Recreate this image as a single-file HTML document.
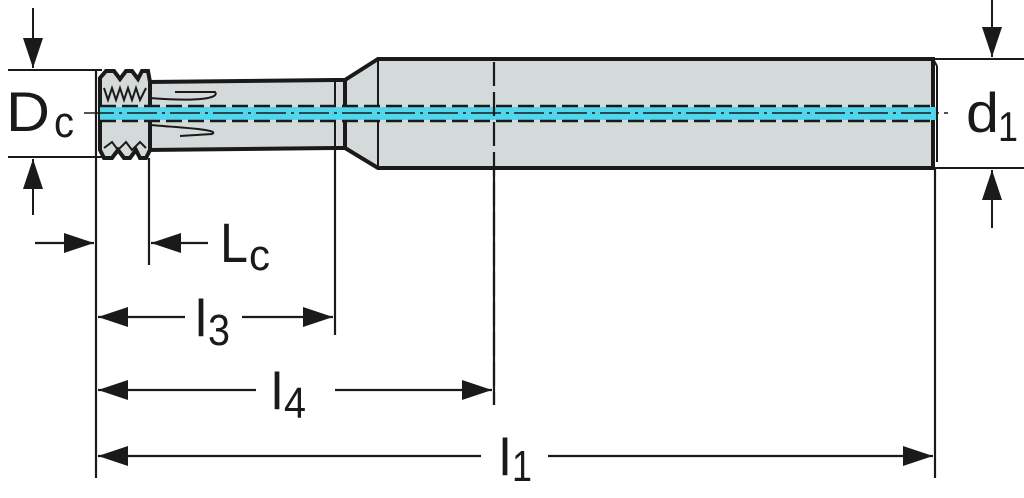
<!DOCTYPE html>
<html><head><style>
html,body{margin:0;padding:0;background:#fff;width:1024px;height:498px;overflow:hidden}
svg text{font-family:"Liberation Sans",sans-serif;fill:#1a1a1a}
</style></head><body>
<svg width="1024" height="498" viewBox="0 0 1024 498" xmlns="http://www.w3.org/2000/svg">
<defs>
<marker id="a" viewBox="0 0 30 20" refX="30" refY="10" markerWidth="30" markerHeight="20" markerUnits="userSpaceOnUse" orient="auto"><path d="M0,0 L30,10 L0,20 z" fill="#1a1a1a"/></marker>
</defs>
<g stroke="#1a1a1a" fill="none" stroke-width="2">
<line x1="8" y1="70" x2="102" y2="70"/>
<line x1="8" y1="157" x2="102" y2="157"/>
<line x1="33" y1="8" x2="33" y2="68" marker-end="url(#a)"/>
<line x1="33" y1="215" x2="33" y2="159" marker-end="url(#a)"/>
<line x1="935" y1="59" x2="1024" y2="59"/>
<line x1="935" y1="168" x2="1024" y2="168"/>
<line x1="992" y1="0" x2="992" y2="57" marker-end="url(#a)"/>
<line x1="992" y1="228" x2="992" y2="170" marker-end="url(#a)"/>
</g>
<g stroke="#1a1a1a" stroke-width="4" fill="#d4dad9">
<path d="M378,59 L933,59 L933,168 L378,168 L345,148 L345,80 Z"/>
<path d="M148,82 L335,80 L345,80 L345,148 L335,148 L148,150 Z"/>
<path d="M100,78 L106,71 L114,71 L120,79 L126,71 L132,71 L138,79 L142,71 L148,71 L150,82 L150,150 L146,158 L140,158 L136,150 L130,158 L124,158 L118,150 L112,158 L104,158 L100,150 Z"/>
</g>
<g stroke="#1a1a1a" stroke-width="2" fill="none">
<line x1="933" y1="59" x2="937" y2="66"/><line x1="937" y1="66" x2="937" y2="162"/>
<line x1="378" y1="59" x2="378" y2="168"/>
<line x1="335" y1="80" x2="335" y2="148"/>
<path d="M150,98 C200,102 220,98 215,92 L175,92"/>
<path d="M150,125 C190,128 220,130 212,134 L180,136"/>
<path d="M104,88 L108,100 L112,88 L116,100 L120,88 L124,100 L128,88 L132,100 L136,88 L140,100 L146,88"/>
<path d="M104,148 L112,142 L118,150 L126,142 L132,150 L140,142 L146,148"/>
</g>
<rect x="100" y="107" width="836" height="13" fill="#52d6ee"/>
<g stroke="#1a1a1a" stroke-width="2.5" stroke-dasharray="16,6">
<line x1="100" y1="106" x2="936" y2="106"/>
<line x1="100" y1="121" x2="936" y2="121"/>
</g>
<line x1="84" y1="113" x2="948" y2="113" stroke="#1a1a1a" stroke-width="1.5" stroke-dasharray="30,5,3,5"/>
<g stroke="#1a1a1a" stroke-width="2.2" fill="none">
<line x1="96" y1="70" x2="96" y2="478"/>
<line x1="149" y1="158" x2="149" y2="265"/>
<line x1="335" y1="148" x2="335" y2="335"/>
<line x1="494" y1="62" x2="494" y2="405" stroke-dasharray="24,6"/>
<line x1="494" y1="168" x2="494" y2="405"/>
<line x1="935" y1="168" x2="935" y2="478"/>
<line x1="35" y1="243" x2="94" y2="243" marker-end="url(#a)"/>
<line x1="208" y1="243" x2="151" y2="243" marker-end="url(#a)"/>
<line x1="185" y1="317" x2="98" y2="317" marker-end="url(#a)"/>
<line x1="242" y1="317" x2="333" y2="317" marker-end="url(#a)"/>
<line x1="256" y1="390" x2="98" y2="390" marker-end="url(#a)"/>
<line x1="335" y1="390" x2="492" y2="390" marker-end="url(#a)"/>
<line x1="481" y1="456" x2="98" y2="456" marker-end="url(#a)"/>
<line x1="548" y1="456" x2="933" y2="456" marker-end="url(#a)"/>
</g>
<text x="6" y="131" font-size="56" textLength="44" lengthAdjust="spacingAndGlyphs">D</text>
<text x="54" y="137" font-size="44" textLength="20" lengthAdjust="spacingAndGlyphs">c</text>
<text x="966" y="132" font-size="56" textLength="33" lengthAdjust="spacingAndGlyphs">d</text>
<text x="998" y="141" font-size="42" textLength="20" lengthAdjust="spacingAndGlyphs">1</text>
<text x="220" y="262" font-size="56" textLength="28" lengthAdjust="spacingAndGlyphs">L</text>
<text x="249" y="270" font-size="44" textLength="21" lengthAdjust="spacingAndGlyphs">c</text>
<text x="195" y="336" font-size="52" textLength="12" lengthAdjust="spacingAndGlyphs">l</text>
<text x="208" y="345" font-size="44" textLength="22" lengthAdjust="spacingAndGlyphs">3</text>
<text x="271" y="409" font-size="52" textLength="12" lengthAdjust="spacingAndGlyphs">l</text>
<text x="284" y="418" font-size="44" textLength="22" lengthAdjust="spacingAndGlyphs">4</text>
<text x="499" y="475" font-size="52" textLength="12" lengthAdjust="spacingAndGlyphs">l</text>
<text x="512" y="481" font-size="44" textLength="20" lengthAdjust="spacingAndGlyphs">1</text>
</svg>
</body></html>
